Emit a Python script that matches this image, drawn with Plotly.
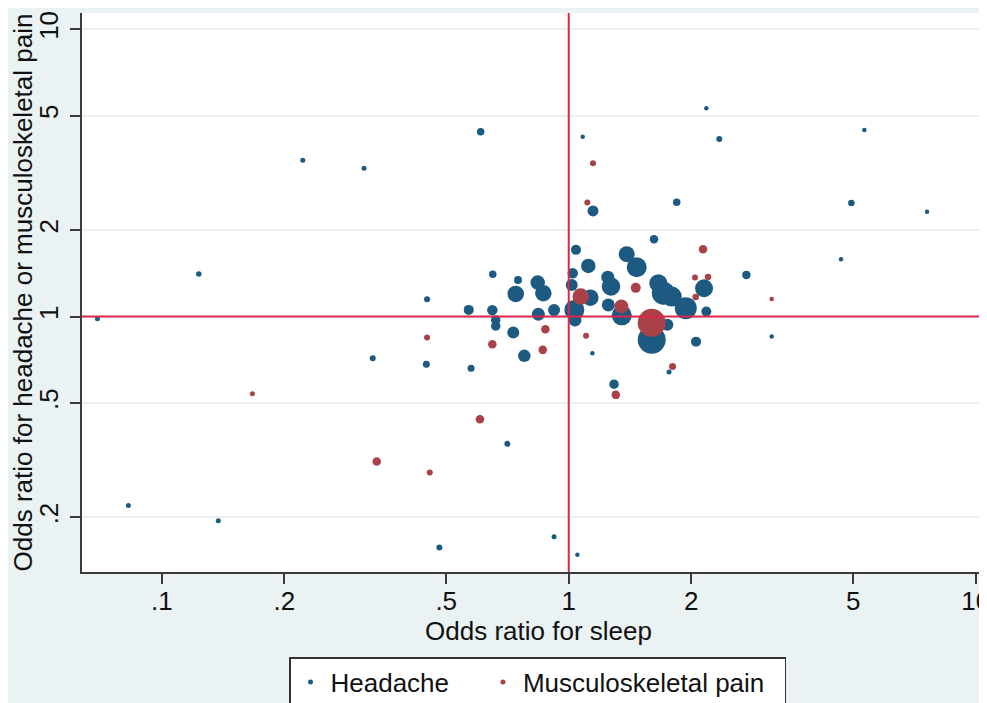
import plotly.graph_objects as go

# ---- data (odds ratios) ----
headache_x = [0.0695, 0.0828, 0.1233, 0.1377, 0.2221, 0.3141, 0.4486, 0.6076, 0.3299, 0.4468,
              0.5754, 0.4809, 0.7068, 0.9203, 1.050, 1.082, 2.178, 2.344, 5.325, 4.948,
              7.592, 4.667, 1.842, 1.147, 2.732, 3.153, 1.620, 1.042, 1.388, 1.469,
              1.117, 1.023, 1.017, 1.247, 1.270, 1.660, 1.708, 1.791, 1.939, 2.150,
              2.178, 0.6506, 0.7506, 0.8390, 0.8661, 0.7409, 0.5679, 0.6491, 0.6617, 0.6617,
              0.8420, 0.9203, 1.032, 1.036, 1.130, 1.251, 1.350, 1.747, 1.599, 0.7307,
              2.055, 0.7777, 1.143, 1.764, 1.292]
headache_y = [0.982, 0.2200, 1.408, 0.1946, 3.501, 3.284, 1.150, 4.403, 0.7166, 0.6831,
              0.6615, 0.1571, 0.3606, 0.1712, 0.1482, 4.229, 5.311, 4.152, 4.464, 2.487,
              2.319, 1.584, 2.501, 2.332, 1.397, 0.852, 1.859, 1.707, 1.649, 1.485,
              1.501, 1.416, 1.289, 1.371, 1.272, 1.307, 1.206, 1.174, 1.070, 1.255,
              1.041, 1.405, 1.342, 1.313, 1.206, 1.199, 1.055, 1.053, 0.974, 0.928,
              1.019, 1.055, 1.055, 0.974, 1.164, 1.098, 1.010, 0.936, 0.830, 0.880,
              0.818, 0.730, 0.746, 0.642, 0.582]
headache_size = [5, 5, 5.5, 5, 5, 5, 6, 7.5, 6, 7,
                 7, 6, 6, 5, 4.5, 4.5, 4.5, 6, 4.5, 6.5,
                 4.5, 4.5, 7.5, 11, 8.5, 4.5, 8.5, 10, 16, 20,
                 14.5, 10.5, 12, 13, 18.5, 18, 23, 20, 22, 18,
                 10, 7.5, 8, 14.5, 16.5, 16.5, 10, 10.5, 9.5, 9.5,
                 13, 12, 20, 13, 16.5, 13, 20, 12, 28, 12,
                 10, 12.5, 4.5, 5, 9.5]

msk_x = [0.1670, 0.3375, 0.4556, 0.4486, 0.6051, 0.6491, 0.8632, 0.8761, 1.103, 1.070,
         1.347, 1.461, 1.599, 1.147, 1.111, 2.138, 2.043, 2.199, 2.051, 3.153,
         1.799, 1.305]
msk_y = [0.5383, 0.3130, 0.2866, 0.845, 0.4396, 0.8016, 0.7659, 0.904, 0.857, 1.174,
         1.085, 1.259, 0.951, 3.418, 2.493, 1.716, 1.367, 1.374, 1.171, 1.152,
         0.670, 0.534]
msk_size = [5, 8.5, 6, 6, 8.5, 8.5, 8.5, 8.5, 6, 16.5,
            14, 10, 28, 6, 6, 8.5, 6, 6.5, 6.5, 4.5,
            7, 8.5]

series_names = ["Headache", "Musculoskeletal pain"]

x_tickvals = [0.1, 0.2, 0.5, 1, 2, 5, 10]
x_ticktext = [".1", ".2", ".5", "1", "2", "5", "10"]
y_tickvals = [0.2, 0.5, 1, 2, 5, 10]
y_ticktext = [".2", ".5", "1", "2", "5", "10"]

# ---- style ----
BLUE = "#1C5A82"
RED = "#A84248"
REFLINE = "#DC2848"
GRAPH_BG = "#EAF2F3"
AXIS = "#3A3A3A"
FONT = "Liberation Sans, Arial, Helvetica, sans-serif"
NB = "\u00a0"

W, H = 987, 703
ML, MR, MT, MB = 74, 0, 5, 139
PW, PH = W - ML - MR, H - MT - MB

fig = go.Figure()

fig.add_trace(go.Scatter(x=headache_x, y=headache_y, mode="markers",
                         marker=dict(size=headache_size, color=BLUE, opacity=1, line=dict(width=0)),
                         showlegend=False, hoverinfo="x+y", name=series_names[0]))
fig.add_trace(go.Scatter(x=msk_x, y=msk_y, mode="markers",
                         marker=dict(size=msk_size, color=RED, opacity=1, line=dict(width=0)),
                         showlegend=False, hoverinfo="x+y", name=series_names[1]))
# legend-only entries with the small key markers
legend_labels = [series_names[0] + NB * 4, series_names[1] + NB * 2]
for nm, col in zip(legend_labels, [BLUE, RED]):
    fig.add_trace(go.Scatter(x=[None], y=[None], mode="markers", name=nm,
                             marker=dict(size=5, color=col)))

# reference lines at OR = 1
fig.add_shape(type="line", xref="x", yref="paper", x0=1, x1=1, y0=0, y1=1,
              line=dict(color=REFLINE, width=2), layer="above")
fig.add_shape(type="line", xref="paper", yref="y", x0=0, x1=1, y0=1, y1=1,
              line=dict(color=REFLINE, width=2), layer="above")

fig.update_layout(
    width=W, height=H,
    margin=dict(l=ML, r=MR, t=MT, b=MB, autoexpand=False),
    paper_bgcolor=GRAPH_BG,
    plot_bgcolor="white",
    font=dict(family=FONT, size=26, color="#111111"),
    xaxis=dict(
        type="log", range=[-1.196, 1.0474],
        tickmode="array", tickvals=x_tickvals, ticktext=x_ticktext,
        ticks="outside", ticklen=10, tickwidth=1.5, tickcolor=AXIS,
        showline=True, linecolor=AXIS, linewidth=1.5,
        showgrid=False, zeroline=False,
        tickfont=dict(size=26), ticklabeloverflow="allow", ticklabelstandoff=-5,
        title=dict(text="Odds ratio for sleep", font=dict(size=26), standoff=0),
    ),
    yaxis=dict(
        type="log", range=[-0.889, 1.0567],
        tickmode="array", tickvals=y_tickvals, ticktext=y_ticktext,
        ticks="outside", ticklen=10, tickwidth=1.5, tickcolor=AXIS,
        showline=True, linecolor=AXIS, linewidth=1.5,
        showgrid=True, gridcolor="#EAF1F2", gridwidth=1.5,
        zeroline=False, tickangle=-90, ticklabelstandoff=2,
        tickfont=dict(size=26),
        title=dict(text="Odds ratio for headache or musculoskeletal pain",
                   font=dict(size=26), standoff=0),
    ),
    legend=dict(
        orientation="h", x=(281 - ML) / PW, xanchor="left",
        y=-(649 - (H - MB)) / PH, yanchor="top",
        bgcolor="white", bordercolor="#333333", borderwidth=1.5,
        font=dict(size=26), itemwidth=30,
    ),
)

fig.write_html(
    "out.html",
    post_script="document.documentElement.style.overflow='hidden';"
                "document.body.style.overflow='hidden';",
)
